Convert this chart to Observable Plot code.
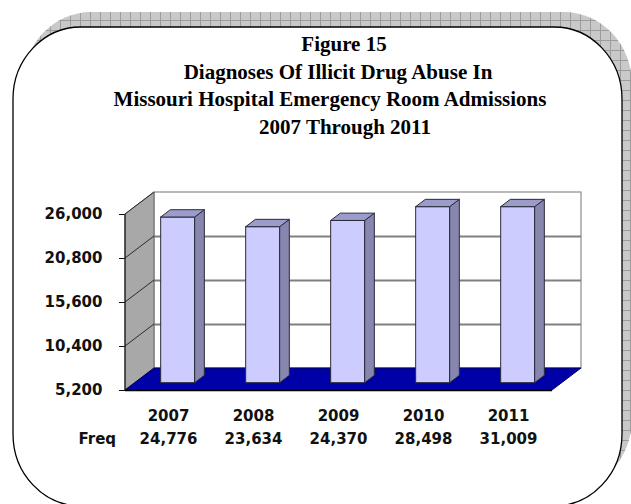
<!DOCTYPE html>
<html>
<head>
<meta charset="utf-8">
<script src="https://cdn.jsdelivr.net/npm/d3@7"></script>
<script src="https://cdn.jsdelivr.net/npm/@observablehq/plot@0.6"></script>
<style>
  body { margin: 0; background: #fff; }
  #page { position: relative; width: 631px; height: 504px; overflow: hidden; }
  #frame, #chart { position: absolute; left: 0; top: 0; }
  #frame text { font-family: "Liberation Serif", "Times New Roman", serif; font-weight: bold; font-size: 21px; fill: #000; }
</style>
</head>
<body>
<div id="page">
  <svg id="frame" width="631" height="504"></svg>
  <div id="chart"></div>
</div>
<script>
// Emergency-room admissions with an illicit-drug-abuse diagnosis, by year
const years = ["2007", "2008", "2009", "2010", "2011"];
const freq = [24776, 23634, 24370, 28498, 31009];
const yTicks = [5200, 10400, 15600, 20800, 26000];
const titleLines = [
  "Figure 15",
  "Diagnoses Of Illicit Drug Abuse In",
  "Missouri Hospital Emergency Room Admissions",
  "2007 Through 2011"
];
const rowLabel = "Freq";

// ---- rounded panel with a cross-hatched drop shadow, and the title ----
const frame = d3.select("#frame");
const defs = frame.append("defs");
const hatch = defs.append("pattern")
  .attr("id", "hatch").attr("width", 10).attr("height", 10)
  .attr("patternUnits", "userSpaceOnUse");
hatch.append("rect").attr("width", 10).attr("height", 10).attr("fill", "#c9c9c9");
hatch.append("path").attr("d", "M0 0.5H10M0.5 0V10").attr("stroke", "#9c9c9c").attr("stroke-width", 1);

frame.append("rect")
  .attr("x", 23).attr("y", 12).attr("width", 609).attr("height", 479)
  .attr("rx", 68).attr("ry", 72).attr("fill", "url(#hatch)");
frame.append("rect")
  .attr("x", 13).attr("y", 27).attr("width", 609).attr("height", 479)
  .attr("rx", 68).attr("ry", 72).attr("fill", "#fff")
  .attr("stroke", "#000").attr("stroke-width", 1.3);

// each title line keeps its own centre, as set in the report
const titleCx = [344, 338, 330, 345];
const titleY0 = 51, titleStep = 27.5;
frame.selectAll("text.t").data(titleLines).join("text")
  .attr("class", "t")
  .attr("x", (d, i) => titleCx[i])
  .attr("y", (d, i) => titleY0 + i * titleStep)
  .attr("text-anchor", "middle")
  .text(d => d);

// ---- 3-D column chart ----
const DX = 29, DY = 22;          // depth of the chart box (px)
const bx = DX / 3, by = DY / 3;  // columns sit in the middle third of the depth

// white back wall
function backWall(index, scales, values, dim) {
  const {y} = scales;
  const x0 = dim.marginLeft, x1 = dim.width - dim.marginRight;
  const yb = y(yTicks[0]), yt = y(yTicks[yTicks.length - 1]);
  const g = d3.create("svg:g");
  g.append("rect")
    .attr("x", x0 + DX).attr("y", yt - DY)
    .attr("width", x1 - x0).attr("height", yb - yt)
    .attr("fill", "#fff").attr("stroke", "#8c8c8c").attr("stroke-width", 1.2);
  return g.node();
}

// grey side wall with its tick diagonals, blue floor, front edges
function walls(index, scales, values, dim) {
  const {y} = scales;
  const x0 = dim.marginLeft, x1 = dim.width - dim.marginRight;
  const yb = y(yTicks[0]), yt = y(yTicks[yTicks.length - 1]);
  const g = d3.create("svg:g");
  g.append("path")
    .attr("d", `M${x0},${yb}V${yt}L${x0 + DX},${yt - DY}V${yb - DY}Z`)
    .attr("fill", "#a8a8a8").attr("stroke", "#6a6a6a");
  g.selectAll("line.diag").data(yTicks.slice(1)).join("line")
    .attr("x1", x0).attr("y1", d => y(d))
    .attr("x2", x0 + DX).attr("y2", d => y(d) - DY)
    .attr("stroke", "#2a2a2a").attr("stroke-width", 1);
  g.append("path")
    .attr("d", `M${x0},${yb}H${x1}L${x1 + DX},${yb - DY}H${x0 + DX}Z`)
    .attr("fill", "#0000a8").attr("stroke", "#00005a");
  g.append("line")
    .attr("x1", x0).attr("x2", x0).attr("y1", yb).attr("y2", yt)
    .attr("stroke", "#000");
  g.append("line")
    .attr("x1", x0).attr("x2", x1).attr("y1", yb + 0.5).attr("y2", yb + 0.5)
    .attr("stroke", "#000").attr("stroke-width", 1.5);
  return g.node();
}

// right side and top of each column
function columnSides(index, scales) {
  const {x, y} = scales;
  const w = x.bandwidth();
  const y0 = y(yTicks[0]);
  const g = d3.create("svg:g").attr("stroke", "#2a2a3a").attr("stroke-width", 1).attr("stroke-linejoin", "round");
  years.forEach((yr, i) => {
    const l = x(yr) + bx, r = l + w;
    const top = y(freq[i]) - by, bot = y0 - by;
    g.append("path")
      .attr("d", `M${r},${bot}V${top}l${bx},${-by}V${bot - by}Z`)
      .attr("fill", "#8686ae");
    g.append("path")
      .attr("d", `M${l},${top}H${r}l${bx},${-by}H${l + bx}Z`)
      .attr("fill", "#9c9ccc");
  });
  return g.node();
}

const fmt = d3.format(",");

const chart = Plot.plot({
  width: 631,
  height: 504,
  marginLeft: 125,
  marginRight: 79,
  marginTop: 214,
  marginBottom: 114,
  style: {
    background: "transparent",
    fontFamily: "DejaVu Sans, sans-serif",
    fontSize: "15px",
    fontWeight: "bold",
    color: "#111",
    overflow: "visible"
  },
  x: { type: "band", domain: years, paddingInner: 0.6, paddingOuter: 0.3, axis: null },
  y: {
    domain: [yTicks[0], yTicks[yTicks.length - 1]],
    clamp: true,
    ticks: yTicks,
    tickFormat: fmt,
    tickSize: 6,
    tickPadding: 17,
    label: null
  },
  marks: [
    backWall,
    Plot.ruleY(yTicks.slice(1, -1), { dx: DX, dy: -DY, stroke: "#808080", strokeWidth: 2 }),
    walls,
    Plot.barY(years, {
      x: d => d,
      y1: yTicks[0],
      y2: (d, i) => freq[i],
      dx: bx,
      dy: -by,
      fill: "#ccccff",
      stroke: "#2a2a3a",
      strokeWidth: 1
    }),
    columnSides,
    Plot.text(years, { x: d => d, frameAnchor: "bottom", dy: 30, fill: "#111" }),
    Plot.text(freq, { x: (d, i) => years[i], text: d => fmt(d), frameAnchor: "bottom", dy: 53, fill: "#111" }),
    Plot.text([rowLabel], { frameAnchor: "bottom-left", dx: -47, dy: 53, textAnchor: "start", fill: "#111" })
  ]
});

document.getElementById("chart").appendChild(chart);
</script>
</body>
</html>
